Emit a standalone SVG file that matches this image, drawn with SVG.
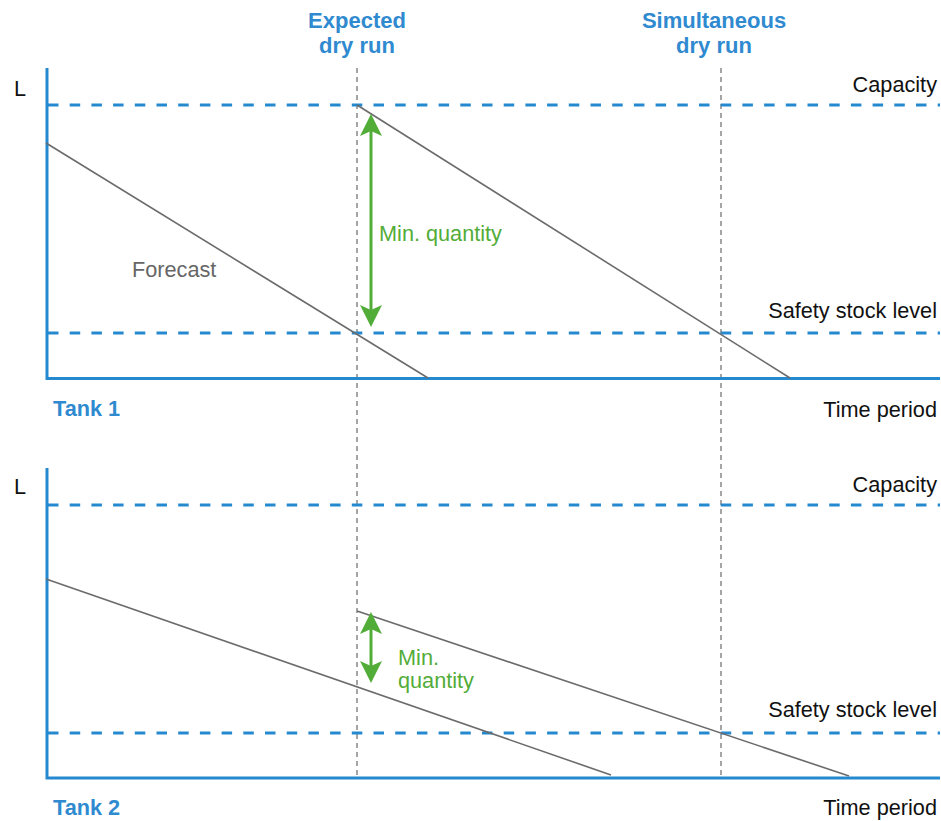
<svg xmlns="http://www.w3.org/2000/svg" width="941" height="821" viewBox="0 0 941 821">
  <defs>
    <style>
      text { font-family: "Liberation Sans", Arial, sans-serif; font-size: 21.7px; }
      .lbl { fill: #111; }
      .end { text-anchor: end; }
      .title { fill: #2F8AD0; font-weight: bold; text-anchor: middle; font-size: 22px; }
      .tank { fill: #2F8AD0; font-weight: bold; }
      .green { fill: #52AC38; }
      .gray { fill: #666; }
      .axis { stroke: #2589D0; stroke-width: 3; fill: none; }
      .level { stroke: #2589D0; stroke-width: 3.2; stroke-dasharray: 10.5 11.2; fill: none; }
      .marker-line { stroke: #888; stroke-width: 1.5; stroke-dasharray: 5 4; fill: none; }
      .fc { stroke: #6b6b6b; stroke-width: 1.6; fill: none; }
      .qty { stroke: #52AC38; stroke-width: 3; fill: none; }
      .head { fill: #52AC38; }
    </style>
  </defs>

  <!-- column headings -->
  <g id="heading-expected">
    <text class="title" x="357" y="28">Expected</text>
    <text class="title" x="357" y="53">dry run</text>
  </g>
  <g id="heading-simultaneous">
    <text class="title" x="714" y="28">Simultaneous</text>
    <text class="title" x="714" y="53">dry run</text>
  </g>

  <!-- vertical time markers spanning both charts -->
  <g id="time-markers">
    <line class="marker-line" x1="357" y1="68" x2="357" y2="778"/>
    <line class="marker-line" x1="721" y1="68" x2="721" y2="778"/>
  </g>

  <!-- Tank 1 chart -->
  <g id="tank1">
    <path class="axis" d="M47 68 V378.5 H940"/>
    <line class="level" x1="48" y1="105" x2="940" y2="105"/>
    <line class="level" x1="48" y1="333" x2="940" y2="333"/>
    <text class="lbl" x="14" y="96">L</text>
    <text class="lbl end" x="937" y="92">Capacity</text>
    <text class="lbl end" x="937" y="318">Safety stock level</text>
    <text class="lbl end" x="937" y="417">Time period</text>
    <text class="tank" x="53" y="416">Tank 1</text>
    <text class="gray" x="132" y="277">Forecast</text>
  </g>

  <!-- Tank 2 chart -->
  <g id="tank2">
    <path class="axis" d="M47 468 V778 H940"/>
    <line class="level" x1="48" y1="505" x2="940" y2="505"/>
    <line class="level" x1="48" y1="733" x2="940" y2="733"/>
    <text class="lbl" x="14" y="494">L</text>
    <text class="lbl end" x="937" y="492">Capacity</text>
    <text class="lbl end" x="937" y="717">Safety stock level</text>
    <text class="lbl end" x="937" y="815">Time period</text>
    <text class="tank" x="53" y="815">Tank 2</text>
  </g>

  <!-- forecast lines and min-quantity arrows -->
  <g id="connectors">
    <line class="fc" x1="46" y1="143" x2="428" y2="378"/>
    <line class="fc" x1="357" y1="105" x2="790" y2="378"/>
    <line class="fc" x1="46" y1="579" x2="611" y2="775"/>
    <line class="fc" x1="357" y1="611" x2="849" y2="776"/>

    <line class="qty" x1="371" y1="128" x2="371" y2="313"/>
    <path class="head" d="M371 114 L382 136 L371 131 L360 136 Z"/>
    <path class="head" d="M371 327 L382 305 L371 310 L360 305 Z"/>

    <line class="qty" x1="371" y1="626" x2="371" y2="669"/>
    <path class="head" d="M371 612 L382 634 L371 629 L360 634 Z"/>
    <path class="head" d="M371 683 L382 661 L371 666 L360 661 Z"/>
  </g>

  <g id="min-quantity-labels">
    <text class="green" x="379" y="241">Min. quantity</text>
    <text class="green" x="398" y="665">Min.</text>
    <text class="green" x="398" y="688">quantity</text>
  </g>
</svg>
